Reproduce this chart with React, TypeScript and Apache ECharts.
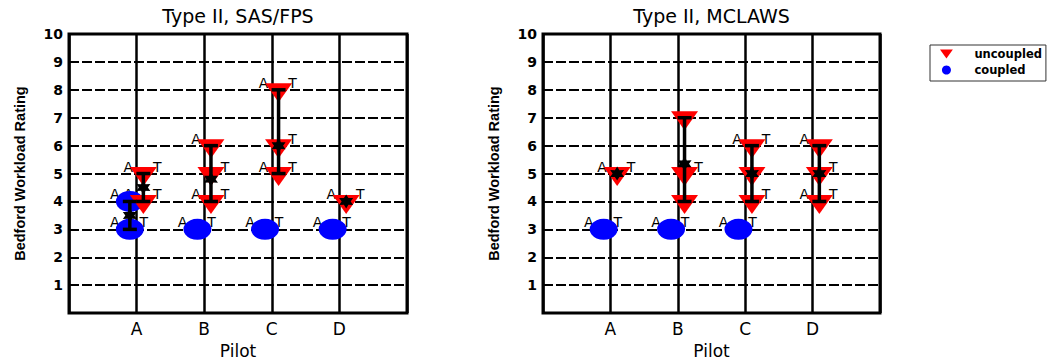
import React, { useEffect, useRef } from "react";
import * as echarts from "echarts";

// ---- data ----
const pilots = ["A", "B", "C", "D"];
const panelTitles = ["Type II, SAS/FPS", "Type II, MCLAWS"];

// [pilot, rating, labels shown]
const sasUncoupled: [string, number, string][] = [
  ["A", 5, "AT"], ["A", 4, "AT"],
  ["B", 6, "A"], ["B", 5, "T"], ["B", 4, "AT"],
  ["C", 8, "AT"], ["C", 6, "T"], ["C", 5, "AT"],
  ["D", 4, "AT"],
];
const sasCoupled: [string, number, string][] = [
  ["A", 4, "AT"], ["A", 3, "AT"], ["B", 3, "AT"], ["C", 3, "AT"], ["D", 3, "AT"],
];
// [pilot, mean, low, high]
const sasUncoupledStats: [string, number, number, number][] = [
  ["A", 4.5, 4, 5], ["B", 4.8, 4, 6], ["C", 6, 5, 8], ["D", 4, 4, 4],
];
const sasCoupledStats: [string, number, number, number][] = [["A", 3.5, 3, 4]];

const mclUncoupled: [string, number, string][] = [
  ["A", 5, "AT"],
  ["B", 7, ""], ["B", 5, "T"], ["B", 4, ""],
  ["C", 6, "AT"], ["C", 5, ""], ["C", 4, "T"],
  ["D", 6, "A"], ["D", 5, "T"], ["D", 4, "AT"],
];
const mclCoupled: [string, number, string][] = [
  ["A", 3, "AT"], ["B", 3, "AT"], ["C", 3, "AT"],
];
const mclUncoupledStats: [string, number, number, number][] = [
  ["A", 5, 5, 5], ["B", 5.35, 4, 7], ["C", 5, 4, 6], ["D", 5, 4, 6],
];
const mclCoupledStats: [string, number, number, number][] = [];

const yTicks = [1, 2, 3, 4, 5, 6, 7, 8, 9, 10];

// ---- styling ----
const SHIFT = 0.1;
const FONT = "DejaVu Sans";
const TRI = "path://M0,0L20,0L10,14Z";
const STAR =
  "path://M10,0L12.8,5.2L18.66,5L15.6,10L18.66,15L12.8,14.8L10,20L7.2,14.8L1.34,15L4.4,10L1.34,5L7.2,5.2Z";

const px = (p: string, dir: number) => pilots.indexOf(p) + 1 + dir * SHIFT;

function panelSeries(
  g: number,
  unc: [string, number, string][],
  cpl: [string, number, string][],
  uncStats: [string, number, number, number][],
  cplStats: [string, number, number, number][]
) {
  const pts = [
    ...unc.map((d) => ({ x: px(d[0], 1), y: d[1], l: d[2] })),
    ...cpl.map((d) => ({ x: px(d[0], -1), y: d[1], l: d[2] })),
  ];
  const labelSeries = (ch: string, off: number[]) => ({
    type: "scatter",
    xAxisIndex: g,
    yAxisIndex: g,
    z: 1,
    silent: true,
    symbolSize: 1,
    itemStyle: { color: "rgba(0,0,0,0)", opacity: 1 },
    label: {
      show: true,
      formatter: ch,
      position: "inside",
      offset: off,
      color: "#000",
      fontFamily: FONT,
      fontSize: 14,
    },
    data: pts.filter((p) => p.l.includes(ch)).map((p) => [p.x, p.y]),
  });
  const stats = [
    ...uncStats.map((d) => [px(d[0], 1), d[1], d[2], d[3]]),
    ...cplStats.map((d) => [px(d[0], -1), d[1], d[2], d[3]]),
  ];
  return [
    labelSeries("A", [-15, -7]),
    labelSeries("T", [14, -7]),
    {
      name: "coupled",
      type: "scatter",
      xAxisIndex: g,
      yAxisIndex: g,
      z: 2,
      symbol: "circle",
      symbolSize: [28, 21],
      itemStyle: { color: "#0000ff", opacity: 1 },
      data: cpl.map((d) => [px(d[0], -1), d[1]]),
    },
    {
      name: "uncoupled",
      type: "scatter",
      xAxisIndex: g,
      yAxisIndex: g,
      z: 3,
      symbol: TRI,
      symbolSize: [27, 19],
      symbolOffset: [0, 3],
      itemStyle: { color: "#ff0000", opacity: 1 },
      data: unc.map((d) => [px(d[0], 1), d[1]]),
    },
    {
      type: "custom",
      xAxisIndex: g,
      yAxisIndex: g,
      z: 4,
      silent: true,
      encode: { x: 0, y: 1 },
      data: stats,
      renderItem: (_p: any, api: any) => {
        const x = api.value(0);
        const lo = api.value(2);
        const hi = api.value(3);
        if (lo === hi) return { type: "group", children: [] };
        const t = api.coord([x, hi]);
        const b = api.coord([x, lo]);
        const st = { stroke: "#000", lineWidth: 3.5 };
        return {
          type: "group",
          children: [
            { type: "line", shape: { x1: t[0], y1: t[1], x2: b[0], y2: b[1] }, style: st },
            { type: "line", shape: { x1: t[0] - 7, y1: t[1], x2: t[0] + 7, y2: t[1] }, style: st },
            { type: "line", shape: { x1: b[0] - 7, y1: b[1], x2: b[0] + 7, y2: b[1] }, style: st },
          ],
        };
      },
    },
    {
      type: "scatter",
      xAxisIndex: g,
      yAxisIndex: g,
      z: 5,
      silent: true,
      symbol: STAR,
      symbolSize: 14,
      itemStyle: { color: "#000", opacity: 1 },
      data: stats.map((d) => [d[0], d[1]]),
    },
  ];
}

export default function App() {
  const ref = useRef<HTMLDivElement>(null);
  useEffect(() => {
    if (!ref.current) return;
    const chart = echarts.init(ref.current, undefined, { renderer: "svg" });
    const grids = [
      { left: 69, width: 338, top: 34, height: 287 },
      { left: 543, width: 337, top: 34, height: 287 },
    ];
    const xAxes = grids.map((_, g) => ({
      type: "value",
      gridIndex: g,
      min: 0,
      max: 5,
      interval: 1,
      name: "Pilot",
      nameLocation: "middle",
      nameGap: 28,
      nameTextStyle: { color: "#000", fontFamily: FONT, fontSize: 17 },
      axisLine: { show: false },
      axisTick: { show: false },
      axisLabel: {
        color: "#000",
        fontFamily: FONT,
        fontSize: 17,
        margin: 7,
        formatter: (v: number) => pilots[v - 1] ?? "",
      },
      splitLine: { show: true, lineStyle: { color: "#000", width: 2.5 } },
    }));
    const yAxes = grids.map((_, g) => ({
      type: "value",
      gridIndex: g,
      min: 0,
      max: 10,
      interval: 1,
      name: "Bedford Workload Rating",
      nameLocation: "middle",
      nameGap: 42,
      nameTextStyle: { color: "#000", fontFamily: "Liberation Sans", fontSize: 14.5, fontWeight: "bold" },
      axisLine: { show: false },
      axisTick: { show: false },
      axisLabel: {
        color: "#000",
        fontFamily: FONT,
        fontSize: 14,
        fontWeight: "bold",
        margin: 6,
        formatter: (v: number) => (yTicks.includes(v) ? String(v) : ""),
      },
      splitLine: { show: true, lineStyle: { color: "#000", width: 2, type: [10, 3] } },
    }));
    chart.setOption({
      animation: false,
      backgroundColor: "#fff",
      title: panelTitles.map((t, g) => ({
        text: t,
        left: grids[g].left + grids[g].width / 2,
        top: 6,
        padding: 0,
        textAlign: "center",
        textStyle: { color: "#000", fontFamily: FONT, fontSize: 19, fontWeight: "normal" },
      })),
      legend: {
        left: 930,
        top: 45,
        orient: "vertical",
        padding: [3, 4, 5, 10],
        itemWidth: 46,
        itemHeight: 9,
        itemGap: 4,
        borderColor: "#333",
        borderWidth: 1,
        textStyle: { color: "#000", fontFamily: FONT, fontSize: 11.5, fontWeight: "bold" },
        data: [
          { name: "uncoupled", icon: TRI },
          { name: "coupled", icon: "circle" },
        ],
      },
      grid: grids.map((gr) => ({ ...gr, show: true, borderColor: "#000", borderWidth: 3, backgroundColor: "#fff" })),
      xAxis: xAxes,
      yAxis: yAxes,
      series: [
        ...panelSeries(0, sasUncoupled, sasCoupled, sasUncoupledStats, sasCoupledStats),
        ...panelSeries(1, mclUncoupled, mclCoupled, mclUncoupledStats, mclCoupledStats),
      ],
    });
    return () => chart.dispose();
  }, []);
  return (
    <div
      ref={ref}
      style={{ position: "fixed", left: 0, top: 0, width: 1061, height: 364, background: "#fff" }}
    />
  );
}
